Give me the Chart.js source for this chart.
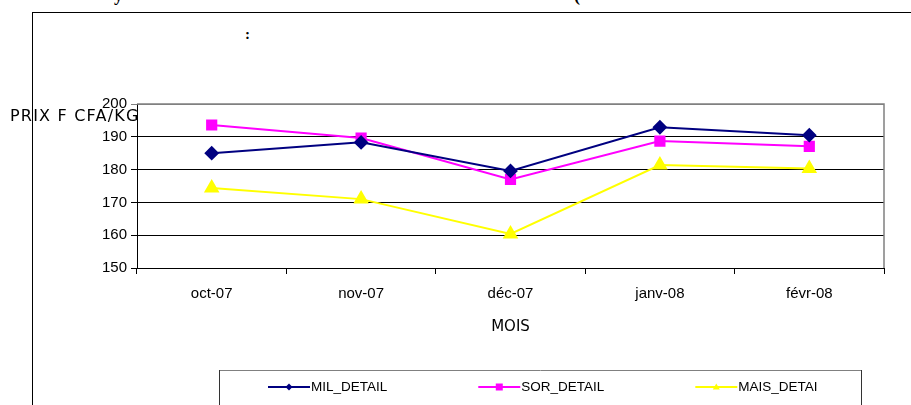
<!DOCTYPE html>
<html>
<head>
<meta charset="utf-8">
<script src="https://cdn.jsdelivr.net/npm/chart.js@4/dist/chart.umd.min.js"></script>
<style>
  html, body { margin: 0; padding: 0; background: #fff; }
  #wrap { position: relative; width: 911px; height: 405px; overflow: hidden; }
  #frame { position: absolute; left: 32px; top: 12px; width: 900px; height: 420px;
           border-left: 1.5px solid #000; border-top: 1px solid #000; }
  .txt { position: absolute; white-space: nowrap; color: #000; }
  #cut { top: -15px; font: bold 18px "Liberation Serif", serif; }
  #colon { left: 245px; top: 26px; font: bold 15px "Liberation Serif", serif; }
  #ytitle { left: 10px; top: 106px; font: 16px "DejaVu Sans", sans-serif; letter-spacing: 1.2px; }
  canvas { position: absolute; left: 0; top: 0; }
</style>
</head>
<body>
<div id="wrap">
  <div id="frame"></div>
  <div class="txt" id="cut" style="left:114px">y</div>
  <div class="txt" id="cut2" style="left:574px; top:-15px; font: bold 18px 'Liberation Serif', serif;">(</div>
  <div class="txt" id="colon">:</div>
  <canvas id="chart" width="911" height="405"></canvas>
  <div class="txt" id="ytitle">PRIX F CFA/KG</div>
</div>
<script>
const months = ['oct-07', 'nov-07', 'déc-07', 'janv-08', 'févr-08'];
const milDetail = [185, 188.3, 179.6, 192.9, 190.5];
const sorDetail = [193.6, 189.6, 177, 188.7, 187.1];
const maisDetail = [174.4, 171, 160.4, 181.4, 180.3];
const seriesNames = ['MIL_DETAIL', 'SOR_DETAIL', 'MAIS_DETAI'];
const yMin = 150;
const yMax = 200;
const yStep = 10;

// little marker shapes used in the boxed legend
function marker(ctx, style, x, y, r, color) {
    ctx.save();
    ctx.fillStyle = color;
    ctx.beginPath();
    if (style === 'rectRot') {
        ctx.moveTo(x, y - r); ctx.lineTo(x + r, y); ctx.lineTo(x, y + r); ctx.lineTo(x - r, y);
    } else if (style === 'rect') {
        ctx.rect(x - r, y - r, 2 * r, 2 * r);
    } else {
        ctx.moveTo(x, y - r); ctx.lineTo(x + r, y + r * 0.7); ctx.lineTo(x - r, y + r * 0.7);
    }
    ctx.closePath();
    ctx.fill();
    ctx.restore();
}

const boxLegend = {
    id: 'boxLegend',
    afterDraw(chart) {
        const ctx = chart.ctx;
        const top = 370, left = 219, right = 862;
        ctx.save();
        ctx.lineWidth = 1;
        ctx.strokeStyle = '#808080';
        ctx.beginPath(); ctx.moveTo(left, top + 0.5); ctx.lineTo(right, top + 0.5); ctx.stroke();
        ctx.strokeStyle = '#333';
        ctx.beginPath(); ctx.moveTo(left + 0.5, top); ctx.lineTo(left + 0.5, 420); ctx.stroke();
        ctx.beginPath(); ctx.moveTo(right - 0.5, top); ctx.lineTo(right - 0.5, 420); ctx.stroke();

        ctx.font = '13.5px "Liberation Sans", Arial, sans-serif';
        ctx.textBaseline = 'middle';
        ctx.fillStyle = '#000';
        let x = 268;
        const y = 387;
        chart.data.datasets.forEach(ds => {
            ctx.strokeStyle = ds.borderColor;
            ctx.lineWidth = 2;
            ctx.beginPath(); ctx.moveTo(x, y); ctx.lineTo(x + 42, y); ctx.stroke();
            marker(ctx, ds.pointStyle, x + 21, y, 3.5, ds.borderColor);
            ctx.fillStyle = '#000';
            ctx.fillText(ds.label, x + 43, y);
            x += 43 + ctx.measureText(ds.label).width + 91;
        });
        ctx.restore();
    }
};

// gray plot border on top and right
const plotBorder = {
    id: 'plotBorder',
    beforeDatasetsDraw(chart) {
        const { left, right, top, bottom } = chart.chartArea;
        const ctx = chart.ctx;
        ctx.save();
        ctx.strokeStyle = '#808080';
        ctx.lineWidth = 1.5;
        ctx.beginPath();
        ctx.moveTo(left, top); ctx.lineTo(right, top); ctx.lineTo(right, bottom);
        ctx.stroke();
        ctx.restore();
    }
};

const tickFont = { family: '"Liberation Sans", Arial, sans-serif', size: 15 };

new Chart(document.getElementById('chart'), {
    type: 'line',
    data: {
        labels: months,
        datasets: [
            { label: seriesNames[0], data: milDetail, borderColor: '#000080', backgroundColor: '#000080',
              pointStyle: 'rectRot', pointRadius: 6, borderWidth: 2 },
            { label: seriesNames[1], data: sorDetail, borderColor: '#FF00FF', backgroundColor: '#FF00FF',
              pointStyle: 'rect', pointRadius: 6.5, borderWidth: 2 },
            { label: seriesNames[2], data: maisDetail, borderColor: '#FFFF00', backgroundColor: '#FFFF00',
              pointStyle: 'triangle', pointRadius: 7, borderWidth: 2 }
        ]
    },
    plugins: [plotBorder, boxLegend],
    options: {
        responsive: false,
        animation: false,
        layout: { padding: { top: 104, right: 27, bottom: 57, left: 0 } },
        plugins: { legend: { display: false }, tooltip: { enabled: false } },
        elements: { line: { tension: 0 }, point: { borderWidth: 0 } },
        scales: {
            x: {
                offset: true,
                afterFit: s => { s.height = 80; },
                grid: { offset: true, drawOnChartArea: false, tickLength: 6, color: '#000' },
                border: { color: '#000', width: 1 },
                ticks: { color: '#000', font: tickFont, padding: 11 },
                title: { display: true, text: 'MOIS', color: '#000',
                         font: { family: '"DejaVu Sans", sans-serif', size: 15 }, padding: { top: 0, bottom: 12 } }
            },
            y: {
                min: yMin,
                max: yMax,
                afterFit: s => { s.width = 137; },
                grid: { tickLength: 6, color: ctx => ctx.tick && ctx.tick.value === yMax ? '#808080' : '#000', lineWidth: 1 },
                border: { color: '#000', width: 1 },
                ticks: { stepSize: yStep, color: '#000', font: tickFont, padding: 4 }
            }
        }
    }
});
</script>
</body>
</html>
